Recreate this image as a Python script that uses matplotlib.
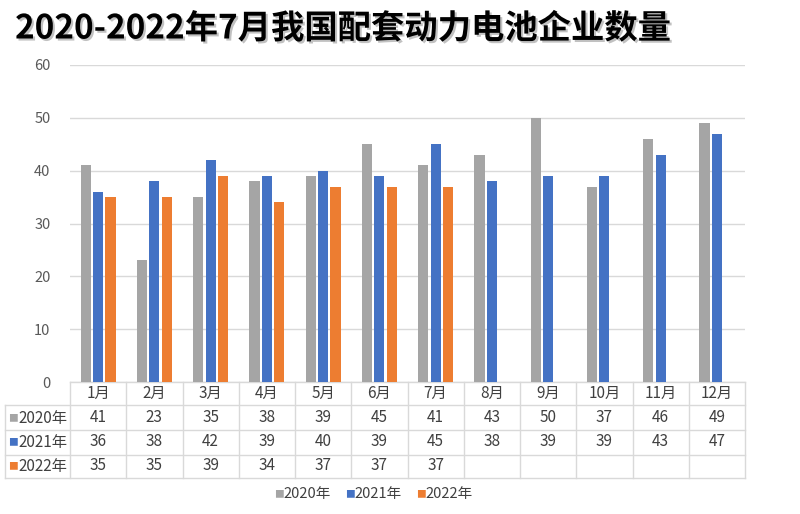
import matplotlib
matplotlib.use("Agg")
import matplotlib.pyplot as plt
import matplotlib.transforms as mtransforms
import matplotlib.patheffects as pe
import numpy as np

plt.rcParams['font.family'] = ['Noto Sans CJK SC', 'DejaVu Sans']

months = ["1月", "2月", "3月", "4月", "5月", "6月", "7月", "8月", "9月", "10月", "11月", "12月"]
series_names = ["2020年", "2021年", "2022年"]
v2020 = [41, 23, 35, 38, 39, 45, 41, 43, 50, 37, 46, 49]
v2021 = [36, 38, 42, 39, 40, 39, 45, 38, 39, 39, 43, 47]
v2022 = [35, 35, 39, 34, 37, 37, 37]
colors = ["#A5A5A5", "#4472C4", "#ED7D31"]
yticks = [0, 10, 20, 30, 40, 50, 60]
title = "2020-2022年7月我国配套动力电池企业数量"

W, H = 800, 514
fig = plt.figure(figsize=(8, 5.14), dpi=100)
fig.patch.set_facecolor("white")

def fy(ypix):
    return (H - ypix) / H

left, right, top, bottom = 70, 745, 65, 382
ax = fig.add_axes([left / W, fy(bottom), (right - left) / W, (bottom - top) / H])

x = np.arange(len(months))
bw = 0.18
off = 0.22
all_series = [v2020, v2021, v2022]
for k, (vals, c) in enumerate(zip(all_series, colors)):
    xs = x[:len(vals)] + (k - 1) * off
    ax.bar(xs, vals, width=bw, color=c, zorder=3)

ax.set_xlim(-0.5, len(months) - 0.5)
ax.set_ylim(0, 60)
ax.set_yticks(yticks)
ax.set_yticklabels([str(t) for t in yticks], fontsize=10.5, color="#595959")
ax.tick_params(axis="y", length=0, pad=14)
ax.tick_params(axis="x", length=0, labelbottom=False)
ax.grid(axis="y", color="#D9D9D9", linewidth=1, zorder=0)
for s in ax.spines.values():
    s.set_visible(False)

# Data table below the axes
trans = mtransforms.blended_transform_factory(ax.transData, fig.transFigure)
line_c = "#D9D9D9"
txt_c = "#404040"
row_lines = [382, 405, 430, 455, 478]
label_left_x = -0.5 - (left - 5) / ((right - left) / len(months))
ax.plot([-0.5, len(months) - 0.5], [fy(382)] * 2, transform=trans, color=line_c, lw=1, clip_on=False)
for yl in row_lines[1:]:
    ax.plot([label_left_x, len(months) - 0.5], [fy(yl)] * 2, transform=trans, color=line_c, lw=1, clip_on=False)
for b in np.arange(-0.5, len(months) + 0.5, 1.0):
    ax.plot([b, b], [fy(382), fy(478)], transform=trans, color=line_c, lw=1, clip_on=False)
ax.plot([label_left_x] * 2, [fy(405), fy(478)], transform=trans, color=line_c, lw=1, clip_on=False)

for i, m in enumerate(months):
    ax.text(i, fy(393), m, transform=trans, ha="center", va="center", fontsize=11, color=txt_c)
row_y = [418, 442, 466]
for r, (vals, c, name) in enumerate(zip(all_series, colors, series_names)):
    for i, v in enumerate(vals):
        ax.text(i, fy(row_y[r]), str(v), transform=trans, ha="center", va="center", fontsize=11, color=txt_c)
    fig.text(8 / W, fy(row_y[r]), "■", ha="left", va="center", fontsize=7, color=c)
    fig.text(18 / W, fy(row_y[r]), name, ha="left", va="center", fontsize=11, color=txt_c)

leg_x = [274, 345, 416]
for lx, c, name in zip(leg_x, colors, series_names):
    fig.text(lx / W, fy(494), "■", ha="left", va="center", fontsize=7, color=c)
    fig.text((lx + 9) / W, fy(494), name, ha="left", va="center", fontsize=10.5, color=txt_c)

fig.text(15 / W, fy(29), title, ha="left", va="center", fontsize=24, fontweight="bold",
         color="black",
         path_effects=[pe.SimplePatchShadow(offset=(1.5, -1.5), shadow_rgbFace="#999999", alpha=0.6), pe.Normal()])

fig.savefig("out.png", dpi=100, facecolor="white")
